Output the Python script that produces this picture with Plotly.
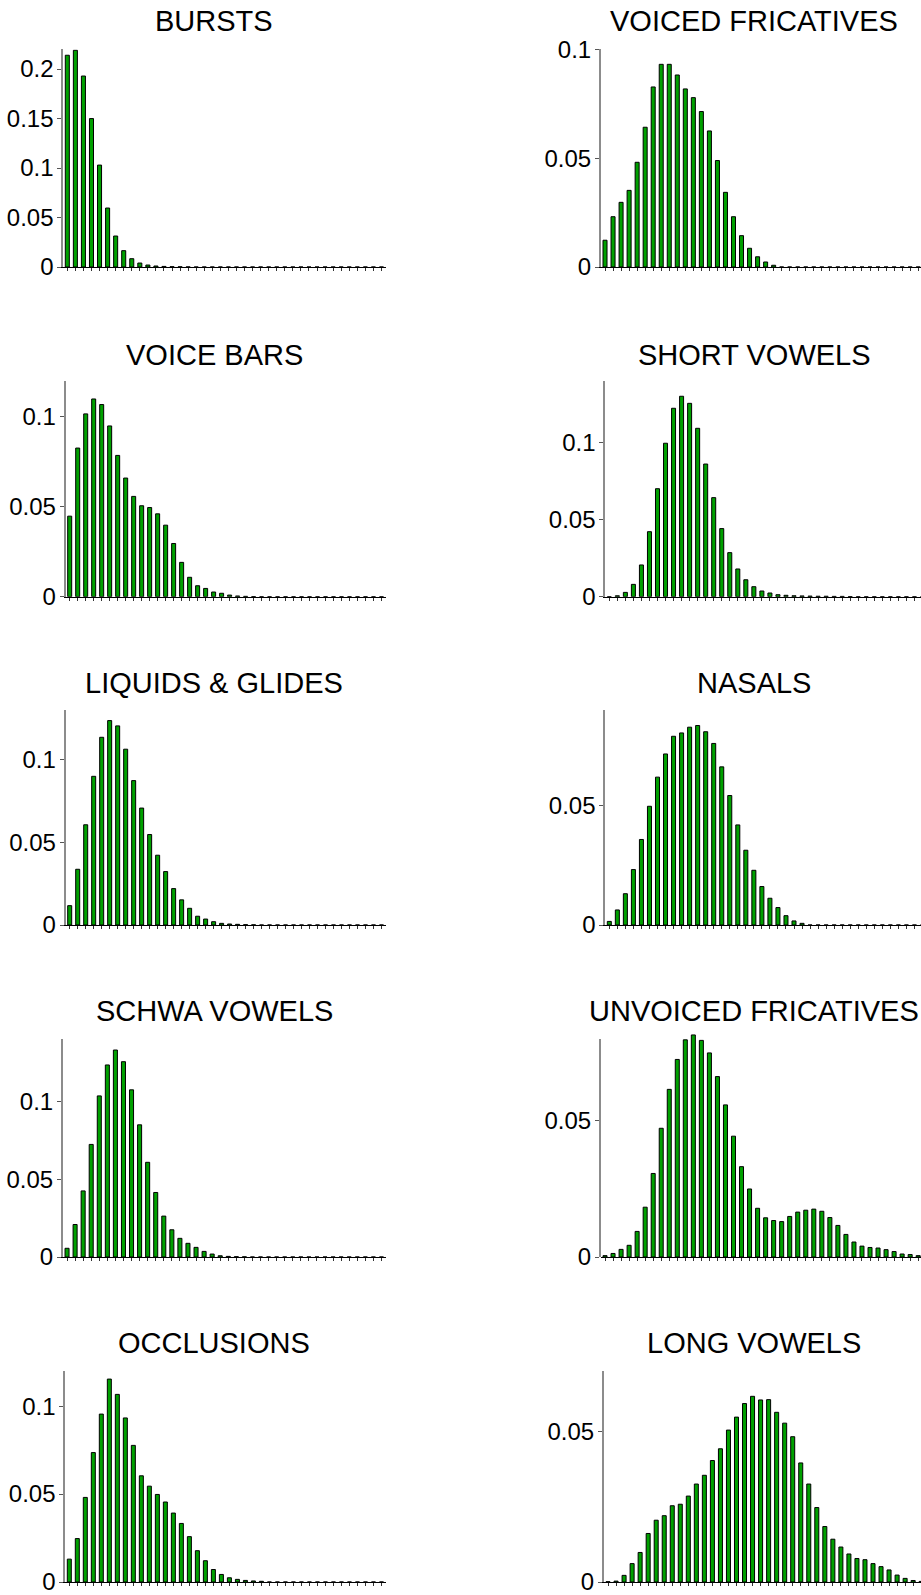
import plotly.graph_objects as go

# ---------------- data ----------------
titles = ["BURSTS", "VOICED FRICATIVES", "VOICE BARS", "SHORT VOWELS",
          "LIQUIDS & GLIDES", "NASALS", "SCHWA VOWELS", "UNVOICED FRICATIVES",
          "OCCLUSIONS", "LONG VOWELS"]

bursts = [0.214, 0.219, 0.193, 0.150, 0.103, 0.0596, 0.0313, 0.0165, 0.0084, 0.004,
          0.002, 0.001, 0.0006, 0.0003, 0.0002, 0.0001, 0, 0, 0, 0,
          0, 0, 0, 0, 0, 0, 0, 0, 0, 0,
          0, 0, 0, 0, 0, 0, 0, 0, 0, 0]
voiced_fricatives = [0.0123, 0.0231, 0.0297, 0.0352, 0.0481, 0.0642, 0.0827, 0.0931, 0.0931, 0.0882,
                     0.0818, 0.0778, 0.0714, 0.0625, 0.0489, 0.0343, 0.0231, 0.0144, 0.0086, 0.0047,
                     0.0023, 0.0008, 0, 0, 0, 0, 0, 0, 0, 0,
                     0, 0, 0, 0, 0, 0, 0, 0, 0, 0]
voice_bars = [0.0448, 0.0827, 0.1017, 0.110, 0.1069, 0.095, 0.0786, 0.066, 0.0558, 0.0506,
              0.0496, 0.0461, 0.0398, 0.0296, 0.0191, 0.0108, 0.0061, 0.0046, 0.0026, 0.0019,
              0.0009, 0.0004, 0.0002, 0.0001, 0, 0, 0, 0, 0, 0,
              0, 0, 0, 0, 0, 0, 0, 0, 0, 0]
short_vowels = [0, 0.0006, 0.0028, 0.008, 0.0206, 0.0422, 0.0701, 0.0996, 0.1223, 0.1301,
                0.1255, 0.1093, 0.0861, 0.0643, 0.0442, 0.0286, 0.018, 0.011, 0.0065, 0.0037,
                0.0024, 0.0013, 0.0009, 0.0006, 0.0005, 0.0004, 0.0003, 0.0003, 0.0002, 0.0002,
                0.0001, 0, 0, 0, 0, 0, 0, 0, 0, 0]
liquids_glides = [0.0117, 0.0337, 0.0606, 0.0899, 0.1135, 0.1236, 0.1204, 0.1063, 0.0873, 0.0707,
                  0.0547, 0.0422, 0.0323, 0.022, 0.0152, 0.0101, 0.0053, 0.0036, 0.002, 0.001,
                  0.0006, 0.0004, 0.0002, 0.0001, 0, 0, 0, 0, 0, 0,
                  0, 0, 0, 0, 0, 0, 0, 0, 0, 0]
nasals = [0.0015, 0.0063, 0.0131, 0.0232, 0.0358, 0.0497, 0.0619, 0.0716, 0.079, 0.0804,
          0.0828, 0.0835, 0.0809, 0.076, 0.0662, 0.0542, 0.0419, 0.0313, 0.0229, 0.0161,
          0.0112, 0.0073, 0.0039, 0.0017, 0.0007, 0, 0, 0, 0, 0,
          0, 0, 0, 0, 0, 0, 0, 0, 0, 0]
schwa_vowels = [0.0056, 0.0209, 0.0425, 0.0724, 0.1036, 0.1235, 0.1331, 0.1256, 0.1075, 0.085,
                0.0609, 0.0415, 0.0263, 0.0175, 0.012, 0.0088, 0.0062, 0.0036, 0.0019, 0.0008,
                0.0004, 0.0002, 0.0001, 0, 0, 0, 0, 0, 0, 0,
                0, 0, 0, 0, 0, 0, 0, 0, 0, 0]
unvoiced_fricatives = [0.0005, 0.0013, 0.0028, 0.0043, 0.0094, 0.0183, 0.0307, 0.0473, 0.0616, 0.0726,
                       0.0798, 0.0816, 0.0796, 0.075, 0.0663, 0.0559, 0.0444, 0.0332, 0.025, 0.0179,
                       0.0144, 0.0134, 0.013, 0.0149, 0.0165, 0.0172, 0.0176, 0.0168, 0.0145, 0.0116,
                       0.0083, 0.0055, 0.004, 0.0035, 0.0033, 0.0027, 0.002, 0.0011, 0.0009, 0.0005]
occlusions = [0.013, 0.0247, 0.0481, 0.0736, 0.0955, 0.1154, 0.1067, 0.0933, 0.0777, 0.0604,
              0.0545, 0.0498, 0.0455, 0.0392, 0.0333, 0.0258, 0.0178, 0.0121, 0.0071, 0.0043,
              0.0024, 0.0015, 0.0009, 0.0006, 0.0004, 0, 0, 0, 0, 0,
              0, 0, 0, 0, 0, 0, 0, 0, 0, 0]
long_vowels = [0.0001, 0.0003, 0.0022, 0.0061, 0.0098, 0.0161, 0.0205, 0.022, 0.0253, 0.0258,
               0.0285, 0.0325, 0.0354, 0.0403, 0.0442, 0.0504, 0.0547, 0.0592, 0.0616, 0.0604,
               0.0605, 0.0563, 0.0527, 0.0482, 0.0395, 0.0325, 0.0247, 0.0184, 0.0142, 0.0116,
               0.0093, 0.0078, 0.0074, 0.0061, 0.0051, 0.004, 0.0023, 0.0012, 0.0005, 0.0002]

series = [bursts, voiced_fricatives, voice_bars, short_vowels, liquids_glides,
          nasals, schwa_vowels, unvoiced_fricatives, occlusions, long_vowels]
bins = list(range(40))

y_max = [0.22, 0.1, 0.12, 0.14, 0.13, 0.09, 0.14, 0.08, 0.12, 0.07]
y_tickvals = [[0, 0.05, 0.1, 0.15, 0.2], [0, 0.05, 0.1], [0, 0.05, 0.1], [0, 0.05, 0.1],
              [0, 0.05, 0.1], [0, 0.05], [0, 0.05, 0.1], [0, 0.05], [0, 0.05, 0.1], [0, 0.05]]
y_ticktext = [["0", "0.05", "0.1", "0.15", "0.2"], ["0", "0.05", "0.1"], ["0", "0.05", "0.1"],
              ["0", "0.05", "0.1"], ["0", "0.05", "0.1"], ["0", "0.05"], ["0", "0.05", "0.1"],
              ["0", "0.05"], ["0", "0.05", "0.1"], ["0", "0.05"]]

# ---------------- layout geometry (pixels) ----------------
W, H = 921, 1595
left_L = [63.3, 65.7, 65.7, 63.0, 65.3]
right_L = [601.0, 605.3, 605.3, 601.0, 604.0]
left_R = 385.5
spacing = 8.03
row_top = [49.3, 381.0, 710.0, 1039.3, 1371.0]
row_bot = [267.0, 596.7, 925.0, 1257.0, 1582.0]
title_y = [20.5, 354.7, 682.8, 1011.5, 1343.2]
title_x = [214.0, 754.0]

FONT = "Liberation Sans, Arial, sans-serif"
fig = go.Figure()
layout = dict(width=W, height=H, margin=dict(l=0, r=0, t=0, b=0, pad=0, autoexpand=False),
              template="none",
              paper_bgcolor="white", plot_bgcolor="rgba(0,0,0,0)", showlegend=False,
              font=dict(family=FONT, color="black"))
annotations = []
extra_axis = 20

for i, (vals, title) in enumerate(zip(series, titles)):
    row, col = i // 2, i % 2
    n = i + 1
    xa = "x" if n == 1 else f"x{n}"
    ya = "y" if n == 1 else f"y{n}"
    fig.add_trace(go.Bar(x=bins, y=vals, xaxis=xa, yaxis=ya, width=0.5,
                         marker=dict(color="#00a000", line=dict(color="black", width=1)),
                         hoverinfo="skip"))
    if col == 0:
        L, R = left_L[row], left_R
        xr = [-0.5, 39.5]
    else:
        L, R = right_L[row], W
        xr = [-0.5, -0.5 + (W - L) / spacing]
    xkey = "xaxis" if n == 1 else f"xaxis{n}"
    ykey = "yaxis" if n == 1 else f"yaxis{n}"
    top, bot = row_top[row], row_bot[row]
    ystyle = dict(showgrid=False, zeroline=False, showline=True, linecolor="#8c8c8c",
                  linewidth=2, ticks="outside", ticklen=4, tickwidth=1, tickcolor="#555",
                  tickvals=y_tickvals[i], ticktext=y_ticktext[i],
                  tickfont=dict(size=24, family=FONT, color="black"),
                  ticklabelstandoff=-1, ticklabeloverflow="allow",
                  automargin=False, fixedrange=True)
    layout[xkey] = dict(domain=[L / W, R / W], anchor=ya, range=xr,
                        showgrid=False, zeroline=False, showline=True,
                        linecolor="black", linewidth=1,
                        ticks="outside", ticklen=3, tickwidth=1, tickcolor="#333",
                        tickvals=bins, showticklabels=False, automargin=False,
                        fixedrange=True)
    if max(vals) > y_max[i]:
        # bars taller than the axis limit: give the bar axis headroom and draw the
        # visible (shorter) y axis on a separate frame axis sharing the x axis
        head = 12.0
        scale = (bot - top + head) / (bot - top)
        layout[ykey] = dict(domain=[1 - bot / H, 1 - (top - head) / H], anchor=xa,
                            range=[0, y_max[i] * scale], visible=False,
                            automargin=False, fixedrange=True)
        fkey = f"yaxis{extra_axis}"
        layout[fkey] = dict(domain=[1 - bot / H, 1 - top / H], anchor=xa,
                            range=[0, y_max[i]], **ystyle)
        fig.add_trace(go.Bar(x=[], y=[], xaxis=xa, yaxis=f"y{extra_axis}", hoverinfo="skip"))
        extra_axis += 1
    else:
        layout[ykey] = dict(domain=[1 - bot / H, 1 - top / H], anchor=xa,
                            range=[0, y_max[i]], **ystyle)
    annotations.append(dict(text=title, x=title_x[col] / W, y=1 - title_y[row] / H,
                            xref="paper", yref="paper", xanchor="center", yanchor="middle",
                            showarrow=False, font=dict(size=29, family=FONT, color="black")))

layout["annotations"] = annotations
fig.update_layout(**layout)
fig.write_html("out.html", config={"displayModeBar": False},
               post_script="document.body.style.margin='0';document.body.style.overflow='hidden';")
